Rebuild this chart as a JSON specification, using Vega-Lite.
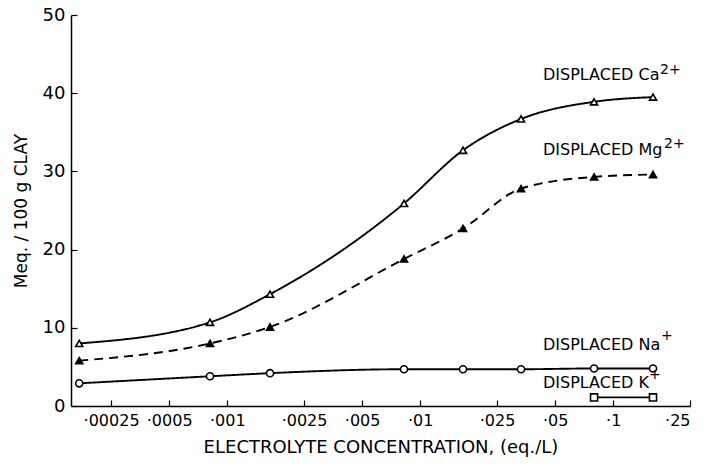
{
  "$schema": "https://vega.github.io/schema/vega-lite/v6.json",
  "width": 619,
  "height": 391,
  "autosize": "none",
  "padding": {"left": 71, "top": 15, "right": 25, "bottom": 58},
  "background": "white",
  "config": {
    "view": {"stroke": null},
    "font": "DejaVu Sans",
    "axis": {"domainColor": "black", "tickColor": "black", "labelColor": "black", "titleColor": "black", "grid": false, "domainWidth": 1.5, "tickWidth": 1.2}
  },
  "datasets": {
    "pts": [
      {"series": "Ca", "x": 0.000171, "y": 8.0},
      {"series": "Ca", "x": 0.000814, "y": 10.7},
      {"series": "Ca", "x": 0.001666, "y": 14.3},
      {"series": "Ca", "x": 0.00824, "y": 25.9},
      {"series": "Ca", "x": 0.01666, "y": 32.7},
      {"series": "Ca", "x": 0.0333, "y": 36.7},
      {"series": "Ca", "x": 0.0796, "y": 38.9},
      {"series": "Ca", "x": 0.1608, "y": 39.5},
      {"series": "Mg", "x": 0.000171, "y": 5.8},
      {"series": "Mg", "x": 0.000814, "y": 8.0},
      {"series": "Mg", "x": 0.001666, "y": 10.1},
      {"series": "Mg", "x": 0.00824, "y": 18.8},
      {"series": "Mg", "x": 0.01666, "y": 22.7},
      {"series": "Mg", "x": 0.0333, "y": 27.8},
      {"series": "Mg", "x": 0.0796, "y": 29.3},
      {"series": "Mg", "x": 0.1608, "y": 29.6},
      {"series": "Na", "x": 0.000171, "y": 2.9},
      {"series": "Na", "x": 0.000814, "y": 3.8},
      {"series": "Na", "x": 0.001666, "y": 4.2},
      {"series": "Na", "x": 0.00824, "y": 4.7},
      {"series": "Na", "x": 0.01666, "y": 4.7},
      {"series": "Na", "x": 0.0333, "y": 4.7},
      {"series": "Na", "x": 0.0796, "y": 4.8},
      {"series": "Na", "x": 0.1608, "y": 4.8},
      {"series": "K", "x": 0.0796, "y": 1.1},
      {"series": "K", "x": 0.1608, "y": 1.1}
    ],
    "labels": [
      {"x": 0.04327, "y": 42.3, "text": "DISPLACED Ca"},
      {"x": 0.04327, "y": 32.7, "text": "DISPLACED Mg"},
      {"x": 0.04327, "y": 7.8, "text": "DISPLACED Na"},
      {"x": 0.04327, "y": 2.9, "text": "DISPLACED K"}
    ],
    "sups": [
      {"x": 0.1748, "y": 43.0, "text": "2+"},
      {"x": 0.1833, "y": 33.5, "text": "2+"},
      {"x": 0.177, "y": 8.9, "text": "+"},
      {"x": 0.1535, "y": 4.0, "text": "+"}
    ]
  },
  "layer": [
    {
      "data": {"name": "pts"},
      "mark": {"type": "line", "interpolate": "monotone", "color": "black", "strokeWidth": 1.9},
      "encoding": {
        "x": {
          "field": "x", "type": "quantitative",
          "scale": {"type": "log", "domain": [0.000155, 0.25], "nice": false},
          "axis": {
            "values": [0.00025, 0.0005, 0.001, 0.0025, 0.005, 0.01, 0.025, 0.05, 0.1, 0.25],
            "labelExpr": "'·' + slice(format(datum.value, ''), 2)",
            "tickSize": -6, "labelPadding": 12, "labelFontSize": 16,
            "title": "ELECTROLYTE CONCENTRATION, (eq./L)", "titleFontSize": 18, "titleFontWeight": "normal", "titlePadding": 10
          }
        },
        "y": {
          "field": "y", "type": "quantitative",
          "scale": {"domain": [0, 50], "nice": false},
          "axis": {
            "values": [0, 10, 20, 30, 40, 50], "tickSize": -6, "labelPadding": 12, "labelFontSize": 18,
            "title": "Meq. / 100 g CLAY", "titleFontSize": 17, "titleFontWeight": "normal", "titlePadding": 12
          }
        },
        "detail": {"field": "series"},
        "strokeDash": {
          "field": "series", "type": "nominal",
          "scale": {"domain": ["Ca", "Mg", "Na", "K"], "range": [[1, 0], [9, 6], [1, 0], [1, 0]]},
          "legend": null
        }
      }
    },
    {
      "data": {"name": "pts"},
      "mark": {"type": "point", "filled": true, "stroke": "black", "strokeWidth": 1.6, "size": 50, "opacity": 1},
      "encoding": {
        "x": {"field": "x", "type": "quantitative"},
        "y": {"field": "y", "type": "quantitative"},
        "shape": {
          "field": "series", "type": "nominal",
          "scale": {"domain": ["Ca", "Mg", "Na", "K"], "range": ["triangle-up", "triangle-up", "circle", "square"]},
          "legend": null
        },
        "fill": {
          "field": "series", "type": "nominal",
          "scale": {"domain": ["Ca", "Mg", "Na", "K"], "range": ["white", "black", "white", "white"]},
          "legend": null
        }
      }
    },
    {
      "data": {"name": "labels"},
      "mark": {"type": "text", "align": "left", "baseline": "middle", "fontSize": 16, "color": "black"},
      "encoding": {
        "x": {"field": "x", "type": "quantitative"},
        "y": {"field": "y", "type": "quantitative"},
        "text": {"field": "text"}
      }
    },
    {
      "data": {"name": "sups"},
      "mark": {"type": "text", "align": "left", "baseline": "middle", "fontSize": 14, "color": "black"},
      "encoding": {
        "x": {"field": "x", "type": "quantitative"},
        "y": {"field": "y", "type": "quantitative"},
        "text": {"field": "text"}
      }
    }
  ]
}
